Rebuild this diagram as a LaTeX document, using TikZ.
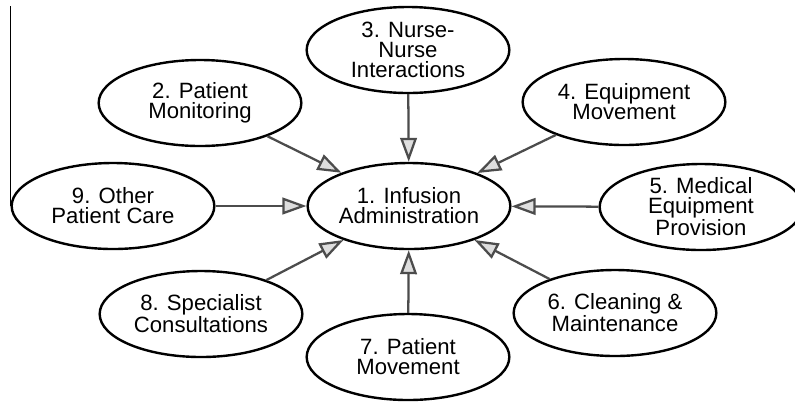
\documentclass[tikz,border=0pt]{standalone}
\usepackage{fontspec}
\setmainfont{Liberation Sans}
\usetikzlibrary{shapes.geometric,arrows.meta}

\begin{document}
\begin{tikzpicture}[x=0.75pt,y=0.75pt,yscale=-1,xscale=1,
  task/.style={draw,ellipse,line width=1.8pt,minimum width=152pt,minimum height=64.5pt,inner sep=0pt,align=center,font=\fontsize{16.6}{15}\selectfont},
  flow/.style={draw=black!70,line width=1.7pt,-{Triangle[length=18pt,width=12.5pt,fill=black!13]}}]
\useasboundingbox (0,0) rectangle (795,401);

%Shape: Ellipse
\node[task] (infusion) at (409,206) {1. Infusion\\Administration};
%Shape: Ellipse
\node[task] (monitoring) at (200,103) {2. Patient\\Monitoring};
%Shape: Ellipse
\node[task] (nurse) at (408,50) {3. Nurse-\\Nurse\\Interactions};
%Shape: Ellipse
\node[task] (equipment) at (624,102) {4. Equipment\\Movement};
%Shape: Ellipse
\node[task] (provision) at (701,207) {5. Medical\\Equipment\\Provision};
%Shape: Ellipse
\node[task] (cleaning) at (615,313) {6. Cleaning \&\\Maintenance};
%Shape: Ellipse
\node[task] (movement) at (408,357) {7. Patient\\Movement};
%Shape: Ellipse
\node[task] (specialist) at (201,314) {8. Specialist\\Consultations};
%Shape: Ellipse
\node[task] (other) at (113,206) {9. Other\\Patient Care};

%Straight Lines
\coordinate (axistop) at (12,6);
\draw [line width=0.7pt] (other.west |- axistop) -- (other.west);

%Straight Lines
\draw [flow] (monitoring) -- (infusion);
\draw [flow] (nurse) -- (infusion);
\draw [flow] (equipment) -- (infusion);
\draw [flow] (provision) -- (infusion);
\draw [flow] (cleaning) -- (infusion);
\draw [flow] (movement) -- (infusion);
\draw [flow] (specialist) -- (infusion);
\draw [flow] (other) -- (infusion);

\end{tikzpicture}
\end{document}
